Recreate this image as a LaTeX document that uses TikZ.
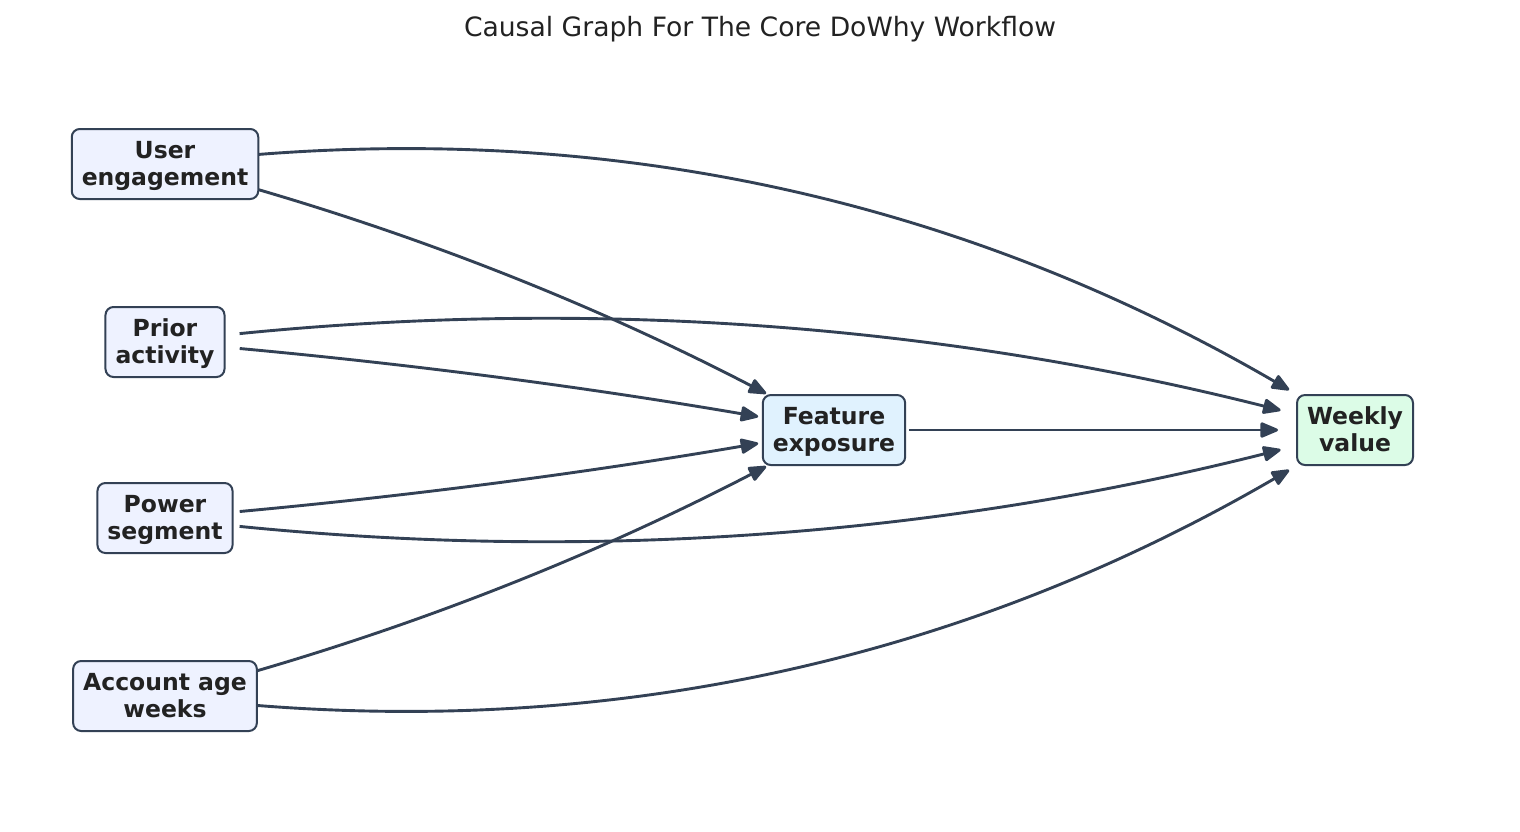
\documentclass[tikz,border=0pt]{standalone}
\usepackage{fontspec}
\setmainfont{DejaVu Sans}
\usetikzlibrary{arrows.meta,calc}
\pgfdeclarelayer{edgelayer}
\pgfsetlayers{edgelayer,main}
\definecolor{edgec}{HTML}{334155}
\definecolor{txtc}{HTML}{222222}
\definecolor{fillA}{HTML}{EEF2FF}
\definecolor{fillT}{HTML}{E0F2FE}
\definecolor{fillO}{HTML}{DCFCE7}
\newcommand{\twoline}[2]{\rule{0pt}{21pt}#1\\#2\rule[-6pt]{0pt}{6pt}}
\begin{document}
\begin{tikzpicture}[x=1pt,y=-1pt,
  nodebox/.style={draw=edgec, line width=2pt, rounded corners=8pt, align=center,
    font=\fontsize{23.5}{27}\selectfont\bfseries, text=txtc, minimum height=70pt,
    inner xsep=10pt, inner ysep=0pt},
  edge/.style={draw=edgec, line width=2.9pt, -{Triangle[length=20pt,width=16pt,round]}},
]
\useasboundingbox (0,0) rectangle (1520,831);
\node[font=\fontsize{26.6}{32}\selectfont, text=txtc] (title) at (760,29) {Causal Graph For The Core DoWhy Workflow};

\node[nodebox, fill=fillA] (ue) at (165,164) {\twoline{User}{engagement}};
\node[nodebox, fill=fillA] (pa) at (165,342) {\twoline{Prior}{activity}};
\node[nodebox, fill=fillA] (ps) at (165,518) {\twoline{Power}{segment}};
\node[nodebox, fill=fillA] (ac) at (165,696) {\twoline{Account age}{weeks}};
\node[nodebox, fill=fillT] (fe) at (834,430) {\twoline{Feature}{exposure}};
\node[nodebox, fill=fillO] (wv) at (1355,430) {\twoline{Weekly}{value}};

\begin{pgfonlayer}{edgelayer}
% to outcome
\draw[edge] (ue.center) .. controls (568.0,113.2) and (942.8,188.6) .. ($(wv.center)+(-65.8,-40.0)$);
\draw[edge] (ac.center) .. controls (568.0,746.8) and (942.8,671.4) .. ($(wv.center)+(-65.8,40.0)$);
\draw[edge] ($(pa.center)+(74.6,-8.4)$) .. controls (591.1,298.5) and (938.1,324.0) .. ($(wv.center)+(-74.4,-19.7)$);
\draw[edge] ($(ps.center)+(74.6,8.4)$) .. controls (591.1,561.5) and (938.1,536.0) .. ($(wv.center)+(-74.4,19.7)$);
% to treatment
\draw[edge] (ue.center) .. controls (374.5,217.7) and (574.9,294.3) .. ($(fe.center)+(-67.8,-36.4)$);
\draw[edge] (ac.center) .. controls (374.5,642.3) and (574.9,565.7) .. ($(fe.center)+(-67.8,36.4)$);
\draw[edge] ($(pa.center)+(74.7,6.5)$) .. controls (413.4,364.5) and (586.2,387.2) .. ($(fe.center)+(-75.8,-13.4)$);
\draw[edge] ($(ps.center)+(74.7,-6.5)$) .. controls (413.4,495.5) and (586.2,472.8) .. ($(fe.center)+(-75.8,13.4)$);
% treatment to outcome
\draw[edge] ($(fe.center)+(75,0)$) -- ($(wv.center)+(-77,0)$);
\end{pgfonlayer}
\end{tikzpicture}
\end{document}
